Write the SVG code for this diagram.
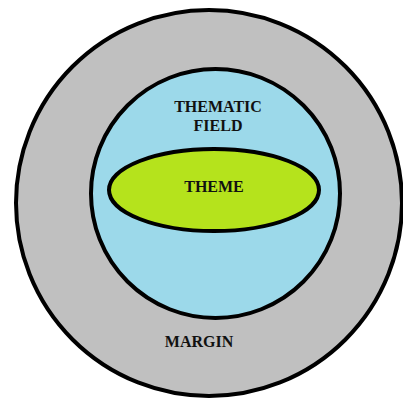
<svg xmlns="http://www.w3.org/2000/svg" width="403" height="399" viewBox="0 0 403 399">
<style>
.s{stroke:#000;stroke-width:4}
.t{font-family:"Liberation Serif","Times New Roman",serif;font-weight:bold;font-size:16px;fill:#111;text-anchor:middle}
</style>
<rect width="403" height="399" fill="#fff"/>
<g id="margin">
<circle class="s" cx="209" cy="203" r="193" fill="#c0c0c0"/>
<text class="t" x="199" y="347">MARGIN</text>
</g>
<g id="thematic-field">
<circle class="s" cx="215.5" cy="193.5" r="124.5" fill="#9cd9ea"/>
<text class="t" x="218" y="112">THEMATIC</text>
<text class="t" x="218" y="131">FIELD</text>
</g>
<g id="theme">
<ellipse class="s" cx="214" cy="190" rx="105" ry="41" fill="#b5e31c"/>
<text class="t" x="214" y="192">THEME</text>
</g>
<g id="connectors"/>
</svg>
